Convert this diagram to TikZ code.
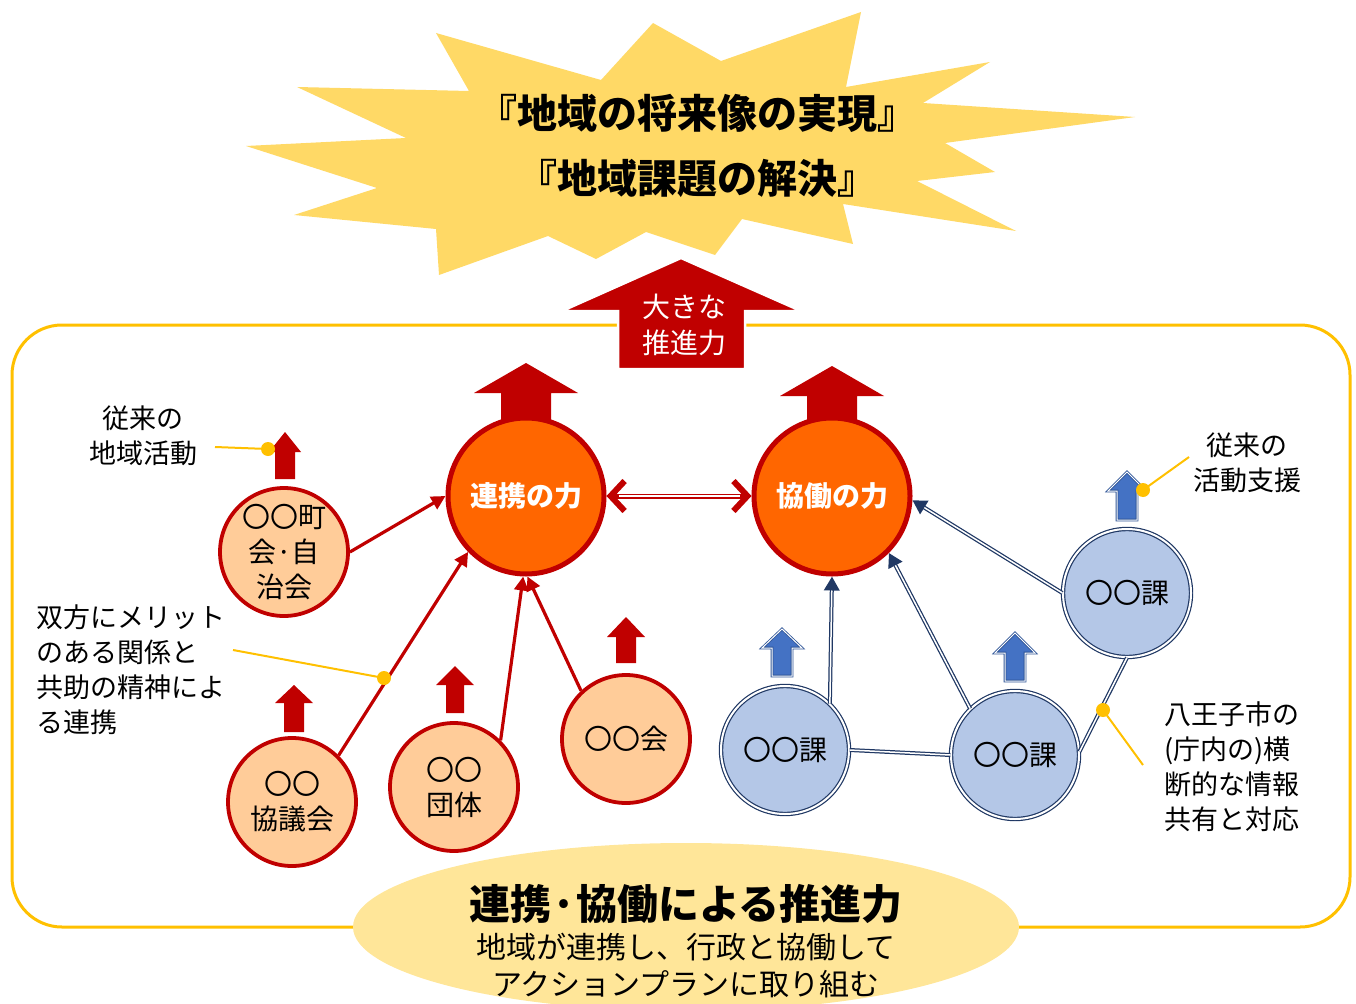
\documentclass[tikz,border=0pt]{standalone}
\usepackage{fontspec}
\setmainfont{Noto Sans CJK JP}
\usetikzlibrary{arrows.meta,calc}
\definecolor{dred}{HTML}{C00000}
\definecolor{orng}{HTML}{FF6600}
\definecolor{peach}{HTML}{FFCC99}
\definecolor{gold}{HTML}{FFC000}
\definecolor{star}{HTML}{FFD966}
\definecolor{ellip}{HTML}{FFE699}
\definecolor{lblue}{HTML}{B4C7E7}
\definecolor{navy}{HTML}{203864}
\definecolor{mblue}{HTML}{4472C4}
\definecolor{bedge}{HTML}{2F5597}
\newcommand{\myblockup}[7]{\path[#7] (#1,#2) -- ({#1+#4},#3) -- ({#1+#5},#3) -- ({#1+#5},#6) -- ({#1-#5},#6) -- ({#1-#5},#3) -- ({#1-#4},#3) -- cycle;}
\begin{document}
\begin{tikzpicture}[x=1pt,y=-1pt,
  bigc/.style={circle, minimum size=156pt, inner sep=0pt, fill=orng, draw=dred, line width=5pt, text=white, font=\fontsize{28}{34}\selectfont\bfseries},
  redc/.style={circle, minimum size=128pt, inner sep=0pt, fill=peach, draw=dred, line width=3.8pt, align=center, font=\fontsize{28}{35}\selectfont},
  bluec/.style={circle, minimum size=128pt, inner sep=0pt, fill=lblue, draw=navy, double=white, double distance=2pt, line width=1.2pt, font=\fontsize{28}{34}\selectfont},
  lbl/.style={font=\fontsize{27}{35}\selectfont, inner sep=0pt},
  redarr/.style={draw=dred, line width=3.2pt, -{Triangle[length=14pt,width=14pt]}},
  bluearr/.style={draw=navy, line width=4pt, -{Triangle[length=14pt,width=15pt]}},
  bluein/.style={draw=white, line width=1.5pt},
  callout/.style={draw=gold, line width=2pt},
  dot/.style={fill=gold},
  redfill/.style={fill=dred},
  bluefill/.style={fill=mblue, draw=bedge, double=white, double distance=1pt, line width=0.8pt}
]
\useasboundingbox (0,0) rectangle (1356,1003);
\clip (0,0) rectangle (1356,1003);

% starburst
\fill[star] (436,33) -- (601,80) -- (653,23) -- (721,61) -- (861,12) -- (846,87) -- (990,62) -- (923,103) -- (1135,117) -- (945,143) -- (995,172) -- (917,181) -- (1016,231) -- (843,204) -- (853,244) -- (742,219) -- (715,255) -- (646,232) -- (596,259) -- (548,236) -- (439,275) -- (436,229) -- (294,215) -- (377,188) -- (246,146) -- (406,138) -- (297,87) -- (469,91) -- cycle;
\node[font=\fontsize{40}{65}\selectfont\bfseries, align=center, inner sep=0pt] (goal) at (697,146) {『地域の将来像の実現』\\『地域課題の解決』};

% frame
\draw[gold, line width=3pt, rounded corners=50pt] (12,325) rectangle (1350,927);

% big arrow
\filldraw[fill=dred, draw=white, line width=2.5pt] (681,258) -- (801,311) -- (745,311) -- (745,369) -- (618,369) -- (618,311) -- (562,311) -- cycle;
\node[font=\fontsize{28}{36}\selectfont, text=white, align=center, inner sep=0pt] (suishin) at (684,325) {大きな\\推進力};

% arrows behind big circles
\myblockup{526}{363}{393}{52}{25}{440}{redfill}
\myblockup{832}{366}{396}{52}{25}{440}{redfill}

% big circles
\node[bigc] (renkei) at (526,496) {連携の力};
\node[bigc] (kyodo) at (832,496) {協働の力};

% small arrows
\myblockup{285}{432}{452}{16}{10}{479}{redfill}
\myblockup{294}{685}{703}{19}{10}{732}{redfill}
\myblockup{455}{666}{685}{19}{9}{713}{redfill}
\myblockup{626}{617}{637}{19}{10}{663}{redfill}
\myblockup{782}{629}{648}{20}{10}{676}{bluefill}
\myblockup{1015}{633}{653}{20}{10}{681}{bluefill}
\myblockup{1127}{472}{491}{19}{10}{520}{bluefill}

% red circles
\node[redc] (chokai) at (284,552) {〇〇町\\会·自\\治会};
\node[redc] (kyogi) at (292,802) {〇〇\\協議会};
\node[redc] (dantai) at (454,787) {〇〇\\団体};
\node[redc] (kai) at (626,739) {〇〇会};

% blue circles
\node[bluec] (ka1) at (785,750) {〇〇課};
\node[bluec] (ka2) at (1015,755) {〇〇課};
\node[bluec] (ka3) at (1127,593) {〇〇課};

% red connectors
\draw[redarr] (chokai.east) -- (renkei.west);
\draw[redarr] (kyogi.45) -- (renkei.224);
\draw[redarr] (dantai.45) -- (renkei.268);
\draw[redarr] (kai.133) -- (renkei.271);

% double red arrow
\draw[dred, line width=5pt, {Straight Barb[length=14pt,width=30pt,line width=6pt]}-{Straight Barb[length=14pt,width=30pt,line width=6pt]}] (renkei.east) -- (kyodo.west);
\draw[white, line width=1.8pt, shorten <=12pt, shorten >=12pt] (renkei.east) -- (kyodo.west);

% blue connectors
\draw[bluearr] (ka1.46) -- (kyodo.270);
\draw[bluein, shorten >=14pt] (ka1.46) -- (kyodo.270);
\draw[bluearr] (ka2.134) -- (kyodo.315);
\draw[bluein, shorten >=14pt] (ka2.134) -- (kyodo.315);
\draw[bluearr] (ka3.180) -- (kyodo.357);
\draw[bluein, shorten >=14pt] (ka3.180) -- (kyodo.357);
\draw[draw=navy, line width=4pt] (ka1.east) -- (ka2.west);
\draw[bluein] (ka1.east) -- (ka2.west);
\draw[draw=navy, line width=4pt] (ka2.3) -- (ka3.270);
\draw[bluein] (ka2.3) -- (ka3.270);

% callouts
\node[lbl, align=center] (t1) at (143,436) {従来の\\地域活動};
\coordinate (c1a) at (215,447);
\coordinate (c1b) at (268,449);
\draw[callout] (c1a) -- (c1b);
\fill[dot] (c1b) circle[radius=7pt];

\node[lbl, align=left, anchor=west] (t2) at (36,670) {双方にメリット\\のある関係と\\共助の精神によ\\る連携};
\coordinate (c2a) at (233,650);
\coordinate (c2b) at (384,678);
\draw[callout] (c2a) -- (c2b);
\fill[dot] (c2b) circle[radius=7pt];

\node[lbl, align=center] (t3) at (1247,463) {従来の\\活動支援};
\coordinate (c3a) at (1189,457);
\coordinate (c3b) at (1143,490);
\draw[callout] (c3a) -- (c3b);
\fill[dot] (c3b) circle[radius=7pt];

\node[lbl, align=left, anchor=west] (t4) at (1164,767) {八王子市の\\(庁内の)横\\断的な情報\\共有と対応};
\coordinate (c4a) at (1143,765);
\coordinate (c4b) at (1103,710);
\draw[callout] (c4a) -- (c4b);
\fill[dot] (c4b) circle[radius=7pt];

% bottom ellipse
\fill[ellip] (686,927) ellipse[x radius=333pt, y radius=84pt];
\node[font=\fontsize{41}{44}\selectfont\bfseries, inner sep=0pt] (etitle) at (686,904) {連携·協働による推進力};
\node[font=\fontsize{30}{37}\selectfont, align=center, inner sep=0pt] (esub) at (686,966) {地域が連携し、行政と協働して\\アクションプランに取り組む};
\end{tikzpicture}
\end{document}
